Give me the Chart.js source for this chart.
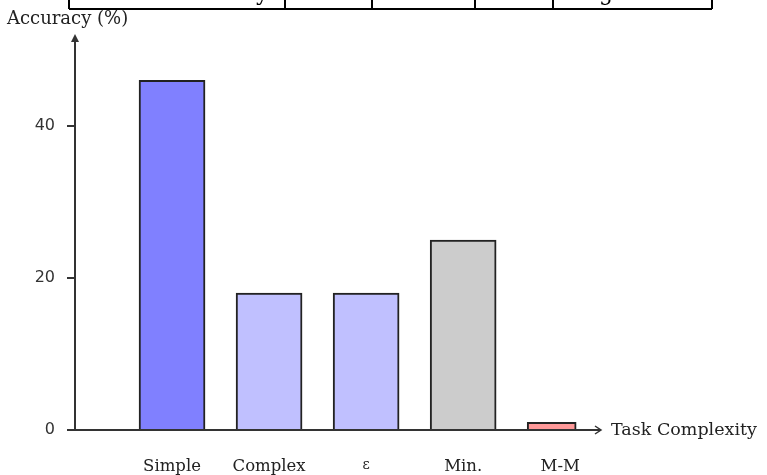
<!DOCTYPE html>
<html>
<head>
<meta charset="utf-8">
<script src="https://cdn.jsdelivr.net/npm/chart.js@4/dist/chart.umd.min.js"></script>
<style>
    html, body { margin: 0; padding: 0; background: #fff; }
    #chart-wrap { width: 767px; height: 475px; }
</style>
</head>
<body>
<div id="chart-wrap"><canvas id="accuracy-chart" width="767" height="475"></canvas></div>
<script>
// Datos del gráfico
var categories = ['Simple', 'Complex', 'ε', 'Min.', 'M-M'];
var accuracy = [46, 18, 18, 25, 1];
var yTicks = [0, 20, 40];
var yLabel = 'Accuracy (%)';
var xLabel = 'Task Complexity';

// Estilos
var barColors = ['#8080ff', '#c0c0ff', '#c0c0ff', '#cccccc', '#ff9999'];
var barWidth = 66;
var narrowWidth = 49;   // la barra M-M es más estrecha
var narrowIndex = 4;
var xMax = 5.4;
var yMax = 50;
var AXIS = '#333';
var SERIF = '"DejaVu Serif", "Liberation Serif", serif';
var SANS = '"DejaVu Sans", sans-serif';

var PAD_TOP = 50;
var PAD_RIGHT = 168;
var Y_AXIS_W = 75;
var X_AXIS_H = 45;

/**
 * Separa las barras normales de la estrecha (misma alineación izquierda)
 */
function buildDatasets() {
    var pxPerUnit = (767 - Y_AXIS_W - PAD_RIGHT) / xMax;
    var wide = { data: [], backgroundColor: [] };
    var narrow = { data: [], backgroundColor: [] };

    categories.forEach(function(cat, i) {
        if (i === narrowIndex) {
            narrow.data.push({ x: i + 1 - (barWidth - narrowWidth) / 2 / pxPerUnit, y: accuracy[i] });
            narrow.backgroundColor.push(barColors[i]);
        } else {
            wide.data.push({ x: i + 1, y: accuracy[i] });
            wide.backgroundColor.push(barColors[i]);
        }
    });

    return [
        {
            data: wide.data,
            backgroundColor: wide.backgroundColor,
            borderColor: '#222',
            borderWidth: 2,
            barThickness: barWidth,
            grouped: false
        },
        {
            data: narrow.data,
            backgroundColor: narrow.backgroundColor,
            borderColor: '#222',
            borderWidth: 2,
            barThickness: narrowWidth,
            grouped: false
        }
    ];
}

// Ejes con flechas, títulos y restos de la tabla superior
var decorPlugin = {
    id: 'decor',
    afterDraw: function(chart) {
        var ctx = chart.ctx;
        var area = chart.chartArea;
        var y0 = chart.scales.y.getPixelForValue(0);
        var x0 = area.left;

        ctx.save();
        ctx.strokeStyle = AXIS;
        ctx.fillStyle = AXIS;
        ctx.lineWidth = 2;

        // eje Y
        ctx.beginPath();
        ctx.moveTo(x0, y0);
        ctx.lineTo(x0, area.top - 12);
        ctx.stroke();
        ctx.beginPath();
        ctx.moveTo(x0, area.top - 16);
        ctx.lineTo(x0 - 4, area.top - 8);
        ctx.lineTo(x0 + 4, area.top - 8);
        ctx.closePath();
        ctx.fill();

        // eje X
        ctx.beginPath();
        ctx.moveTo(x0, y0);
        ctx.lineTo(area.right + 2, y0);
        ctx.stroke();
        ctx.lineWidth = 1.5;
        ctx.beginPath();
        ctx.moveTo(area.right - 4, y0 - 4);
        ctx.lineTo(area.right + 2, y0);
        ctx.lineTo(area.right - 4, y0 + 4);
        ctx.stroke();

        // títulos
        ctx.fillStyle = '#222';
        ctx.textBaseline = 'middle';
        ctx.textAlign = 'left';
        ctx.font = '18px ' + SERIF;
        ctx.fillText(yLabel, 7, 19);
        ctx.font = '17.5px ' + SERIF;
        ctx.fillText(xLabel, area.right + 12, y0);

        // tabla cortada arriba
        ctx.strokeStyle = '#000';
        ctx.lineWidth = 2;
        ctx.beginPath();
        ctx.moveTo(69, 9);
        ctx.lineTo(712, 9);
        [69, 285, 372, 475, 553, 712].forEach(function(x) {
            ctx.moveTo(x, 0);
            ctx.lineTo(x, 9);
        });
        ctx.stroke();
        ctx.fillStyle = '#000';
        ctx.textBaseline = 'alphabetic';
        ctx.font = '22px ' + SERIF;
        ctx.fillText('y', 256, 0);
        ctx.fillText('g', 599, 0);
        ctx.restore();
    }
};

var chart = new Chart(document.getElementById('accuracy-chart'), {
    type: 'bar',
    data: { datasets: buildDatasets() },
    options: {
        responsive: false,
        animation: false,
        devicePixelRatio: 1,
        layout: { padding: { top: PAD_TOP, right: PAD_RIGHT, left: 0, bottom: 0 } },
        plugins: {
            legend: { display: false },
            tooltip: { enabled: false }
        },
        scales: {
            x: {
                type: 'linear',
                min: 0,
                max: xMax,
                offset: false,
                grid: { display: false, drawTicks: false, offset: false },
                border: { display: false },
                afterFit: function(scale) { scale.height = X_AXIS_H; },
                afterBuildTicks: function(scale) {
                    scale.ticks = categories.map(function(c, i) { return { value: i + 1 }; });
                },
                ticks: {
                    autoSkip: false,
                    maxRotation: 0,
                    padding: 27,
                    color: '#222',
                    font: function(context) {
                        var isEps = context.tick && categories[context.tick.value - 1] === 'ε';
                        return { family: SERIF, size: isEps ? 14 : 16.5 };
                    },
                    callback: function(value) { return categories[value - 1]; }
                }
            },
            y: {
                min: 0,
                max: yMax,
                grid: {
                    drawOnChartArea: false,
                    drawTicks: true,
                    tickLength: 8,
                    color: AXIS,
                    lineWidth: 2
                },
                border: { display: false },
                afterFit: function(scale) { scale.width = Y_AXIS_W; },
                afterBuildTicks: function(scale) {
                    scale.ticks = yTicks.map(function(v) { return { value: v }; });
                },
                ticks: {
                    padding: 12,
                    color: '#333',
                    font: { family: SANS, size: 16 }
                }
            }
        }
    },
    plugins: [decorPlugin]
});
</script>
</body>
</html>
